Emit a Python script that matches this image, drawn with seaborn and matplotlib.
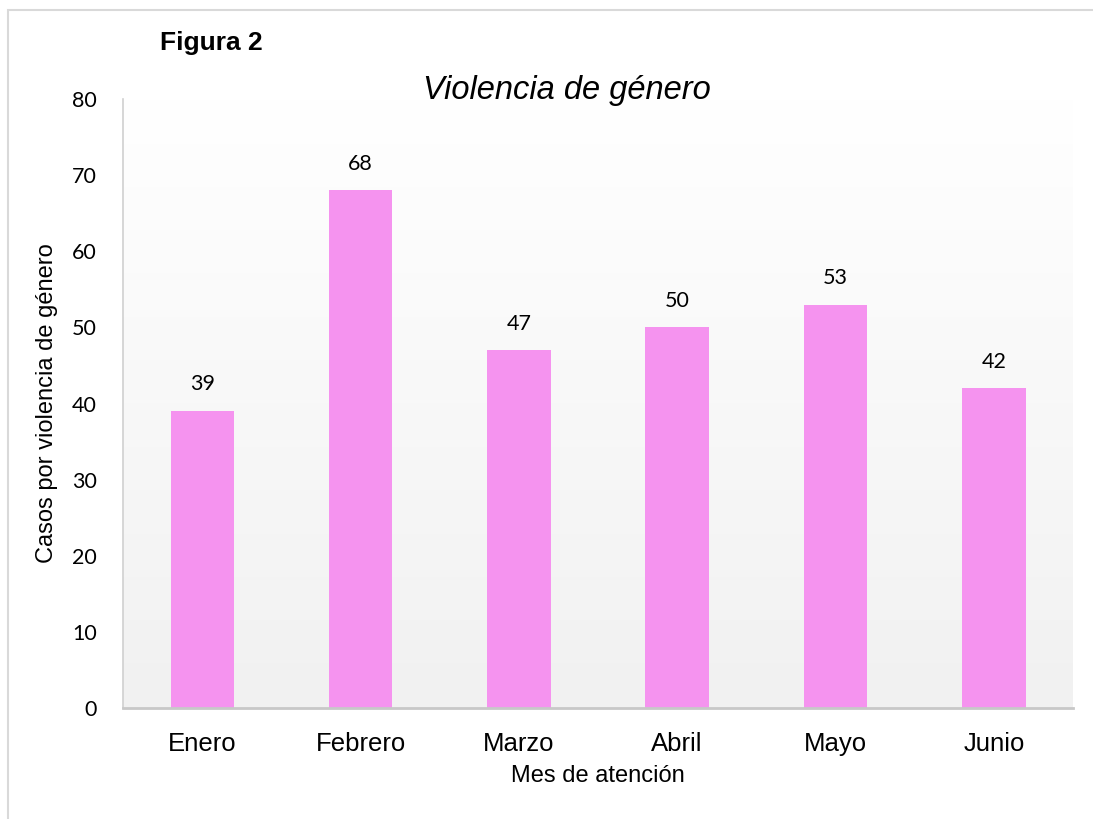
import matplotlib
matplotlib.use('Agg')
import matplotlib.pyplot as plt
import seaborn as sns
import numpy as np
import pandas as pd
from matplotlib.patches import Rectangle

# datos de la figura
meses = ["Enero", "Febrero", "Marzo", "Abril", "Mayo", "Junio"]
casos = [39, 68, 47, 50, 53, 42]
y_ticks = [0, 10, 20, 30, 40, 50, 60, 70, 80]

sns.set_theme(style="white")
plt.rcParams['font.family'] = ['Liberation Sans', 'DejaVu Sans']
plt.rcParams.update({'text.color': 'black', 'axes.labelcolor': 'black',
                     'xtick.color': 'black', 'ytick.color': 'black'})

W, H = 1093, 819
fig = plt.figure(figsize=(W / 100, H / 100), dpi=100)
fig.patch.set_facecolor('white')

# marco gris claro alrededor del gráfico
fig.patches.append(Rectangle((8 / W, -0.05), 1.1, 1 - 10 / H + 0.05,
                             transform=fig.transFigure, fill=False,
                             edgecolor='#d9d9d9', linewidth=1.5))

ax = fig.add_axes([123 / W, 1 - 708 / H, (1073 - 123) / W, (708 - 99) / H])

df = pd.DataFrame({"mes": meses, "casos": casos})
sns.barplot(data=df, x="mes", y="casos", color="#f593ef", saturation=1,
            width=0.4, linewidth=0, ax=ax, zorder=2)

# fondo degradado del área de trazado
grad = np.linspace(0, 1, 256).reshape(-1, 1)
ax.imshow(grad, aspect='auto', extent=[-0.5, len(meses) - 0.5, 0, 80],
          cmap=matplotlib.colors.LinearSegmentedColormap.from_list(
              'g', ['#ffffff', '#f1f1f1']), origin='upper', zorder=0)

ax.set_xlim(-0.5, len(meses) - 0.5)
ax.set_ylim(0, 80)
ax.set_yticks(y_ticks)
ax.set_yticklabels([str(t) for t in y_ticks], family=['Lato', 'DejaVu Sans'],
                   fontsize=15.5)
ax.tick_params(axis='y', length=0, pad=19)
ax.tick_params(axis='x', length=0, pad=17, labelsize=18.5)

for s in ['top', 'right']:
    ax.spines[s].set_visible(False)
ax.spines['left'].set_color('#d0d0d0')
ax.spines['left'].set_linewidth(1.2)
ax.spines['bottom'].set_color('#c8c8c8')
ax.spines['bottom'].set_linewidth(2)

# etiquetas de valores
for i, v in enumerate(casos):
    ax.annotate(str(v), (i, v), xytext=(0, 12), textcoords='offset points',
                ha='center', va='bottom', fontsize=15.5,
                family=['Lato', 'DejaVu Sans'])

ax.set_xlabel("Mes de atención", fontsize=17, labelpad=7)
ax.set_ylabel("Casos por violencia de género", fontsize=17, labelpad=10)

fig.text(567 / W, 1 - 91 / H, "Violencia de género", fontsize=23.5,
         style='italic', ha='center', va='center')
fig.text(160 / W, 1 - 43 / H, "Figura 2", fontsize=19,
         fontweight='bold', ha='left', va='center')

plt.savefig("out.png", dpi=100)
plt.close()
